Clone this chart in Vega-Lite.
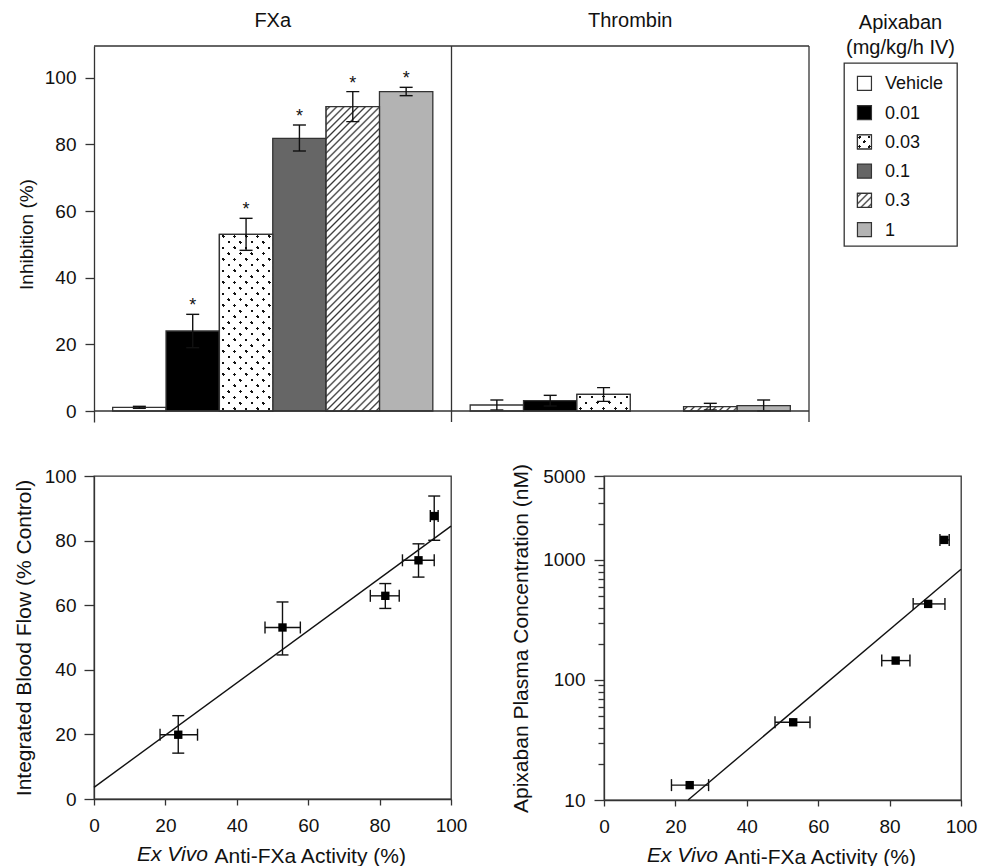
{
"$schema":"https://vega.github.io/schema/vega-lite/v6.json",
"background":"white",
"padding":{"left":12,"top":10,"right":4,"bottom":2},
"spacing":39,
"config":{
 "font":"Liberation Sans",
 "view":{"stroke":"#333","strokeWidth":1.3},
 "axis":{"labelFont":"Liberation Sans","titleFont":"Liberation Sans","labelFontSize":19,"titleFontSize":21,"titleFontWeight":"normal","labelColor":"#111","titleColor":"#111","domainColor":"#333","tickColor":"#333","domainWidth":1.3,"tickWidth":1.3,"grid":false,"labelOverlap":false,"labelFlush":false},
 "title":{"font":"Liberation Sans","fontWeight":"normal","color":"#111"},
 "text":{"font":"Liberation Sans"}
},
"datasets":{
 "bars":[
  {"group":"FXa","dose":"Vehicle","mean":1.1,"lo":0.8,"hi":1.4,"star":false},
  {"group":"FXa","dose":"0.01","mean":24.0,"lo":19.0,"hi":29.0,"star":true},
  {"group":"FXa","dose":"0.03","mean":53.0,"lo":48.2,"hi":57.8,"star":true},
  {"group":"FXa","dose":"0.1","mean":81.8,"lo":78.0,"hi":85.8,"star":true},
  {"group":"FXa","dose":"0.3","mean":91.3,"lo":86.8,"hi":95.8,"star":true},
  {"group":"FXa","dose":"1","mean":95.8,"lo":94.6,"hi":97.1,"star":true},
  {"group":"Thrombin","dose":"Vehicle","mean":1.8,"lo":0.3,"hi":3.3,"star":false},
  {"group":"Thrombin","dose":"0.01","mean":3.1,"lo":1.5,"hi":4.7,"star":false},
  {"group":"Thrombin","dose":"0.03","mean":5.0,"lo":2.9,"hi":7.0,"star":false},
  {"group":"Thrombin","dose":"0.3","mean":1.3,"lo":0.3,"hi":2.3,"star":false},
  {"group":"Thrombin","dose":"1","mean":1.6,"lo":0.0,"hi":3.3,"star":false}
 ],
 "flow":[
  {"x":23.6,"xlo":18.5,"xhi":29.0,"y":19.9,"ylo":14.2,"yhi":25.8},
  {"x":52.8,"xlo":47.9,"xhi":57.8,"y":53.1,"ylo":44.6,"yhi":61.0},
  {"x":81.6,"xlo":77.4,"xhi":85.5,"y":62.9,"ylo":59.0,"yhi":66.7},
  {"x":90.9,"xlo":86.4,"xhi":95.3,"y":73.9,"ylo":68.7,"yhi":79.0},
  {"x":95.3,"xlo":94.2,"xhi":96.4,"y":87.6,"ylo":80.1,"yhi":93.8}
 ],
 "conc":[
  {"x":24.0,"xlo":18.9,"xhi":29.3,"y":13.3,"ylo":12.6,"yhi":14.0},
  {"x":53.0,"xlo":47.9,"xhi":57.7,"y":44.4,"ylo":41.5,"yhi":47.5},
  {"x":81.7,"xlo":77.8,"xhi":85.7,"y":145,"ylo":137,"yhi":153},
  {"x":90.8,"xlo":86.6,"xhi":95.5,"y":430,"ylo":405,"yhi":455},
  {"x":95.3,"xlo":94.1,"xhi":96.7,"y":1468,"ylo":1390,"yhi":1550}
 ],
 "flowfit":[{"x":0,"y":3.6},{"x":100,"y":84.5}],
 "concfit":[{"x":23.55,"y":10},{"x":100,"y":836}]
},
"vconcat":[
{"spacing":33,"hconcat":[
 {
  "width":715,"height":376,
  "view":{"stroke":null},
  "data":{"name":"bars"},
  "layer":[
   {"mark":{"type":"bar","stroke":"#333","strokeWidth":1.3},
    "encoding":{
     "x":{"field":"group","type":"nominal","scale":{"domain":["FXa","Thrombin"],"paddingInner":0,"paddingOuter":0},"axis":{"orient":"top","title":null,"domain":false,"ticks":false,"tickSize":0,"labelPadding":16,"labelFontSize":20,"labelAngle":0}},
     "xOffset":{"field":"dose","type":"nominal","scale":{"domain":["Vehicle","0.01","0.03","0.1","0.3","1"],"paddingInner":0,"paddingOuter":0.35}},
     "y":{"field":"mean","type":"quantitative","scale":{"domain":[-3.3,109.5],"nice":false,"zero":false},"axis":{"values":[0,10,20,30,40,50,60,70,80,90,100],"labelExpr":"datum.value % 20 === 0 ? datum.label : ''","tickSize":9,"labelPadding":9,"title":"Inhibition (%)","titleFontSize":19,"titlePadding":8}},
     "y2":{"datum":0},
     "fill":{"field":"dose","type":"nominal","scale":{"domain":["Vehicle","0.01","0.03","0.1","0.3","1"],"range":["#ffffff","#000000","#ffffff","#666666","#ffffff","#b3b3b3"]},"legend":null}
    }},
   {"transform":[{"filter":"datum.group === 'FXa' && datum.dose === '0.3'"}],
    "mark":{"type":"bar","stroke":"#333","strokeWidth":1.3,"fill":{"gradient":"linear","x1":0,"y1":0,"x2":0.2,"y2":1.1405,"stops":[
{"offset":0.005,"color":"#fff"},{"offset":0.01,"color":"#333"},{"offset":0.015,"color":"#fff"},
{"offset":0.025,"color":"#fff"},{"offset":0.03,"color":"#333"},{"offset":0.035,"color":"#fff"},
{"offset":0.045,"color":"#fff"},{"offset":0.05,"color":"#333"},{"offset":0.055,"color":"#fff"},
{"offset":0.065,"color":"#fff"},{"offset":0.07,"color":"#333"},{"offset":0.075,"color":"#fff"},
{"offset":0.085,"color":"#fff"},{"offset":0.09,"color":"#333"},{"offset":0.095,"color":"#fff"},
{"offset":0.105,"color":"#fff"},{"offset":0.11,"color":"#333"},{"offset":0.115,"color":"#fff"},
{"offset":0.125,"color":"#fff"},{"offset":0.13,"color":"#333"},{"offset":0.135,"color":"#fff"},
{"offset":0.145,"color":"#fff"},{"offset":0.15,"color":"#333"},{"offset":0.155,"color":"#fff"},
{"offset":0.165,"color":"#fff"},{"offset":0.17,"color":"#333"},{"offset":0.175,"color":"#fff"},
{"offset":0.185,"color":"#fff"},{"offset":0.19,"color":"#333"},{"offset":0.195,"color":"#fff"},
{"offset":0.205,"color":"#fff"},{"offset":0.21,"color":"#333"},{"offset":0.215,"color":"#fff"},
{"offset":0.225,"color":"#fff"},{"offset":0.23,"color":"#333"},{"offset":0.235,"color":"#fff"},
{"offset":0.245,"color":"#fff"},{"offset":0.25,"color":"#333"},{"offset":0.255,"color":"#fff"},
{"offset":0.265,"color":"#fff"},{"offset":0.27,"color":"#333"},{"offset":0.275,"color":"#fff"},
{"offset":0.285,"color":"#fff"},{"offset":0.29,"color":"#333"},{"offset":0.295,"color":"#fff"},
{"offset":0.305,"color":"#fff"},{"offset":0.31,"color":"#333"},{"offset":0.315,"color":"#fff"},
{"offset":0.325,"color":"#fff"},{"offset":0.33,"color":"#333"},{"offset":0.335,"color":"#fff"},
{"offset":0.345,"color":"#fff"},{"offset":0.35,"color":"#333"},{"offset":0.355,"color":"#fff"},
{"offset":0.365,"color":"#fff"},{"offset":0.37,"color":"#333"},{"offset":0.375,"color":"#fff"},
{"offset":0.385,"color":"#fff"},{"offset":0.39,"color":"#333"},{"offset":0.395,"color":"#fff"},
{"offset":0.405,"color":"#fff"},{"offset":0.41,"color":"#333"},{"offset":0.415,"color":"#fff"},
{"offset":0.425,"color":"#fff"},{"offset":0.43,"color":"#333"},{"offset":0.435,"color":"#fff"},
{"offset":0.445,"color":"#fff"},{"offset":0.45,"color":"#333"},{"offset":0.455,"color":"#fff"},
{"offset":0.465,"color":"#fff"},{"offset":0.47,"color":"#333"},{"offset":0.475,"color":"#fff"},
{"offset":0.485,"color":"#fff"},{"offset":0.49,"color":"#333"},{"offset":0.495,"color":"#fff"},
{"offset":0.505,"color":"#fff"},{"offset":0.51,"color":"#333"},{"offset":0.515,"color":"#fff"},
{"offset":0.525,"color":"#fff"},{"offset":0.53,"color":"#333"},{"offset":0.535,"color":"#fff"},
{"offset":0.545,"color":"#fff"},{"offset":0.55,"color":"#333"},{"offset":0.555,"color":"#fff"},
{"offset":0.565,"color":"#fff"},{"offset":0.57,"color":"#333"},{"offset":0.575,"color":"#fff"},
{"offset":0.585,"color":"#fff"},{"offset":0.59,"color":"#333"},{"offset":0.595,"color":"#fff"},
{"offset":0.605,"color":"#fff"},{"offset":0.61,"color":"#333"},{"offset":0.615,"color":"#fff"},
{"offset":0.625,"color":"#fff"},{"offset":0.63,"color":"#333"},{"offset":0.635,"color":"#fff"},
{"offset":0.645,"color":"#fff"},{"offset":0.65,"color":"#333"},{"offset":0.655,"color":"#fff"},
{"offset":0.665,"color":"#fff"},{"offset":0.67,"color":"#333"},{"offset":0.675,"color":"#fff"},
{"offset":0.685,"color":"#fff"},{"offset":0.69,"color":"#333"},{"offset":0.695,"color":"#fff"},
{"offset":0.705,"color":"#fff"},{"offset":0.71,"color":"#333"},{"offset":0.715,"color":"#fff"},
{"offset":0.725,"color":"#fff"},{"offset":0.73,"color":"#333"},{"offset":0.735,"color":"#fff"},
{"offset":0.745,"color":"#fff"},{"offset":0.75,"color":"#333"},{"offset":0.755,"color":"#fff"},
{"offset":0.765,"color":"#fff"},{"offset":0.77,"color":"#333"},{"offset":0.775,"color":"#fff"},
{"offset":0.785,"color":"#fff"},{"offset":0.79,"color":"#333"},{"offset":0.795,"color":"#fff"},
{"offset":0.805,"color":"#fff"},{"offset":0.81,"color":"#333"},{"offset":0.815,"color":"#fff"},
{"offset":0.825,"color":"#fff"},{"offset":0.83,"color":"#333"},{"offset":0.835,"color":"#fff"},
{"offset":0.845,"color":"#fff"},{"offset":0.85,"color":"#333"},{"offset":0.855,"color":"#fff"},
{"offset":0.865,"color":"#fff"},{"offset":0.87,"color":"#333"},{"offset":0.875,"color":"#fff"},
{"offset":0.885,"color":"#fff"},{"offset":0.89,"color":"#333"},{"offset":0.895,"color":"#fff"},
{"offset":0.905,"color":"#fff"},{"offset":0.91,"color":"#333"},{"offset":0.915,"color":"#fff"},
{"offset":0.925,"color":"#fff"},{"offset":0.93,"color":"#333"},{"offset":0.935,"color":"#fff"},
{"offset":0.945,"color":"#fff"},{"offset":0.95,"color":"#333"},{"offset":0.955,"color":"#fff"},
{"offset":0.965,"color":"#fff"},{"offset":0.97,"color":"#333"},{"offset":0.975,"color":"#fff"},
{"offset":0.985,"color":"#fff"},{"offset":0.99,"color":"#333"},{"offset":0.995,"color":"#fff"}
]}},
    "encoding":{"x":{"field":"group","type":"nominal"},"xOffset":{"field":"dose","type":"nominal"},"y":{"field":"mean","type":"quantitative"},"y2":{"datum":0}}},
   {"transform":[{"filter":"datum.group === 'Thrombin' && datum.dose === '0.3'"}],
    "mark":{"type":"bar","stroke":"#333","strokeWidth":1.3,"fill":{"gradient":"linear","x1":0,"y1":0,"x2":1.0741,"y2":0.0872,"stops":[
{"offset":0.0315,"color":"#fff"},{"offset":0.0625,"color":"#333"},{"offset":0.0935,"color":"#fff"},
{"offset":0.1565,"color":"#fff"},{"offset":0.1875,"color":"#333"},{"offset":0.2185,"color":"#fff"},
{"offset":0.2815,"color":"#fff"},{"offset":0.3125,"color":"#333"},{"offset":0.3435,"color":"#fff"},
{"offset":0.4065,"color":"#fff"},{"offset":0.4375,"color":"#333"},{"offset":0.4685,"color":"#fff"},
{"offset":0.5315,"color":"#fff"},{"offset":0.5625,"color":"#333"},{"offset":0.5935,"color":"#fff"},
{"offset":0.6565,"color":"#fff"},{"offset":0.6875,"color":"#333"},{"offset":0.7185,"color":"#fff"},
{"offset":0.7815,"color":"#fff"},{"offset":0.8125,"color":"#333"},{"offset":0.8435,"color":"#fff"},
{"offset":0.9065,"color":"#fff"},{"offset":0.9375,"color":"#333"},{"offset":0.9685,"color":"#fff"}
]}},
    "encoding":{"x":{"field":"group","type":"nominal"},"xOffset":{"field":"dose","type":"nominal"},"y":{"field":"mean","type":"quantitative"},"y2":{"datum":0}}},
   {"transform":[{"filter":"datum.group === 'FXa' && datum.dose === '0.03'"}],
    "mark":{"type":"bar","strokeWidth":0,"fill":{"gradient":"linear","x1":0,"y1":0,"x2":0.3603,"y2":1.1932,"stops":[
{"offset":0.018,"color":"#fff"},{"offset":0.018,"color":"#111"},{"offset":0.032,"color":"#111"},{"offset":0.032,"color":"#fff"},
{"offset":0.068,"color":"#fff"},{"offset":0.068,"color":"#111"},{"offset":0.082,"color":"#111"},{"offset":0.082,"color":"#fff"},
{"offset":0.118,"color":"#fff"},{"offset":0.118,"color":"#111"},{"offset":0.132,"color":"#111"},{"offset":0.132,"color":"#fff"},
{"offset":0.168,"color":"#fff"},{"offset":0.168,"color":"#111"},{"offset":0.182,"color":"#111"},{"offset":0.182,"color":"#fff"},
{"offset":0.218,"color":"#fff"},{"offset":0.218,"color":"#111"},{"offset":0.232,"color":"#111"},{"offset":0.232,"color":"#fff"},
{"offset":0.268,"color":"#fff"},{"offset":0.268,"color":"#111"},{"offset":0.282,"color":"#111"},{"offset":0.282,"color":"#fff"},
{"offset":0.318,"color":"#fff"},{"offset":0.318,"color":"#111"},{"offset":0.332,"color":"#111"},{"offset":0.332,"color":"#fff"},
{"offset":0.368,"color":"#fff"},{"offset":0.368,"color":"#111"},{"offset":0.382,"color":"#111"},{"offset":0.382,"color":"#fff"},
{"offset":0.418,"color":"#fff"},{"offset":0.418,"color":"#111"},{"offset":0.432,"color":"#111"},{"offset":0.432,"color":"#fff"},
{"offset":0.468,"color":"#fff"},{"offset":0.468,"color":"#111"},{"offset":0.482,"color":"#111"},{"offset":0.482,"color":"#fff"},
{"offset":0.518,"color":"#fff"},{"offset":0.518,"color":"#111"},{"offset":0.532,"color":"#111"},{"offset":0.532,"color":"#fff"},
{"offset":0.568,"color":"#fff"},{"offset":0.568,"color":"#111"},{"offset":0.582,"color":"#111"},{"offset":0.582,"color":"#fff"},
{"offset":0.618,"color":"#fff"},{"offset":0.618,"color":"#111"},{"offset":0.632,"color":"#111"},{"offset":0.632,"color":"#fff"},
{"offset":0.668,"color":"#fff"},{"offset":0.668,"color":"#111"},{"offset":0.682,"color":"#111"},{"offset":0.682,"color":"#fff"},
{"offset":0.718,"color":"#fff"},{"offset":0.718,"color":"#111"},{"offset":0.732,"color":"#111"},{"offset":0.732,"color":"#fff"},
{"offset":0.768,"color":"#fff"},{"offset":0.768,"color":"#111"},{"offset":0.782,"color":"#111"},{"offset":0.782,"color":"#fff"},
{"offset":0.818,"color":"#fff"},{"offset":0.818,"color":"#111"},{"offset":0.832,"color":"#111"},{"offset":0.832,"color":"#fff"},
{"offset":0.868,"color":"#fff"},{"offset":0.868,"color":"#111"},{"offset":0.882,"color":"#111"},{"offset":0.882,"color":"#fff"},
{"offset":0.918,"color":"#fff"},{"offset":0.918,"color":"#111"},{"offset":0.932,"color":"#111"},{"offset":0.932,"color":"#fff"},
{"offset":0.968,"color":"#fff"},{"offset":0.968,"color":"#111"},{"offset":0.982,"color":"#111"},{"offset":0.982,"color":"#fff"}
]}},
    "encoding":{"x":{"field":"group","type":"nominal"},"xOffset":{"field":"dose","type":"nominal"},"y":{"field":"mean","type":"quantitative"},"y2":{"datum":0}}},
   {"transform":[{"filter":"datum.group === 'FXa' && datum.dose === '0.03'"}],
    "mark":{"type":"bar","stroke":"#333","strokeWidth":1.3,"fill":{"gradient":"linear","x1":0,"y1":1,"x2":0.3603,"y2":-0.1932,"stops":[
{"offset":0.018,"color":"#fff"},{"offset":0.018,"color":"rgba(255,255,255,0)"},{"offset":0.032,"color":"rgba(255,255,255,0)"},{"offset":0.032,"color":"#fff"},
{"offset":0.068,"color":"#fff"},{"offset":0.068,"color":"rgba(255,255,255,0)"},{"offset":0.082,"color":"rgba(255,255,255,0)"},{"offset":0.082,"color":"#fff"},
{"offset":0.118,"color":"#fff"},{"offset":0.118,"color":"rgba(255,255,255,0)"},{"offset":0.132,"color":"rgba(255,255,255,0)"},{"offset":0.132,"color":"#fff"},
{"offset":0.168,"color":"#fff"},{"offset":0.168,"color":"rgba(255,255,255,0)"},{"offset":0.182,"color":"rgba(255,255,255,0)"},{"offset":0.182,"color":"#fff"},
{"offset":0.218,"color":"#fff"},{"offset":0.218,"color":"rgba(255,255,255,0)"},{"offset":0.232,"color":"rgba(255,255,255,0)"},{"offset":0.232,"color":"#fff"},
{"offset":0.268,"color":"#fff"},{"offset":0.268,"color":"rgba(255,255,255,0)"},{"offset":0.282,"color":"rgba(255,255,255,0)"},{"offset":0.282,"color":"#fff"},
{"offset":0.318,"color":"#fff"},{"offset":0.318,"color":"rgba(255,255,255,0)"},{"offset":0.332,"color":"rgba(255,255,255,0)"},{"offset":0.332,"color":"#fff"},
{"offset":0.368,"color":"#fff"},{"offset":0.368,"color":"rgba(255,255,255,0)"},{"offset":0.382,"color":"rgba(255,255,255,0)"},{"offset":0.382,"color":"#fff"},
{"offset":0.418,"color":"#fff"},{"offset":0.418,"color":"rgba(255,255,255,0)"},{"offset":0.432,"color":"rgba(255,255,255,0)"},{"offset":0.432,"color":"#fff"},
{"offset":0.468,"color":"#fff"},{"offset":0.468,"color":"rgba(255,255,255,0)"},{"offset":0.482,"color":"rgba(255,255,255,0)"},{"offset":0.482,"color":"#fff"},
{"offset":0.518,"color":"#fff"},{"offset":0.518,"color":"rgba(255,255,255,0)"},{"offset":0.532,"color":"rgba(255,255,255,0)"},{"offset":0.532,"color":"#fff"},
{"offset":0.568,"color":"#fff"},{"offset":0.568,"color":"rgba(255,255,255,0)"},{"offset":0.582,"color":"rgba(255,255,255,0)"},{"offset":0.582,"color":"#fff"},
{"offset":0.618,"color":"#fff"},{"offset":0.618,"color":"rgba(255,255,255,0)"},{"offset":0.632,"color":"rgba(255,255,255,0)"},{"offset":0.632,"color":"#fff"},
{"offset":0.668,"color":"#fff"},{"offset":0.668,"color":"rgba(255,255,255,0)"},{"offset":0.682,"color":"rgba(255,255,255,0)"},{"offset":0.682,"color":"#fff"},
{"offset":0.718,"color":"#fff"},{"offset":0.718,"color":"rgba(255,255,255,0)"},{"offset":0.732,"color":"rgba(255,255,255,0)"},{"offset":0.732,"color":"#fff"},
{"offset":0.768,"color":"#fff"},{"offset":0.768,"color":"rgba(255,255,255,0)"},{"offset":0.782,"color":"rgba(255,255,255,0)"},{"offset":0.782,"color":"#fff"},
{"offset":0.818,"color":"#fff"},{"offset":0.818,"color":"rgba(255,255,255,0)"},{"offset":0.832,"color":"rgba(255,255,255,0)"},{"offset":0.832,"color":"#fff"},
{"offset":0.868,"color":"#fff"},{"offset":0.868,"color":"rgba(255,255,255,0)"},{"offset":0.882,"color":"rgba(255,255,255,0)"},{"offset":0.882,"color":"#fff"},
{"offset":0.918,"color":"#fff"},{"offset":0.918,"color":"rgba(255,255,255,0)"},{"offset":0.932,"color":"rgba(255,255,255,0)"},{"offset":0.932,"color":"#fff"},
{"offset":0.968,"color":"#fff"},{"offset":0.968,"color":"rgba(255,255,255,0)"},{"offset":0.982,"color":"rgba(255,255,255,0)"},{"offset":0.982,"color":"#fff"}
]}},
    "encoding":{"x":{"field":"group","type":"nominal"},"xOffset":{"field":"dose","type":"nominal"},"y":{"field":"mean","type":"quantitative"},"y2":{"datum":0}}},
   {"transform":[{"filter":"datum.group === 'Thrombin' && datum.dose === '0.03'"}],
    "mark":{"type":"bar","strokeWidth":0,"fill":{"gradient":"linear","x1":0,"y1":0,"x2":1.1957,"y2":0.3735,"stops":[
{"offset":0.061,"color":"#fff"},{"offset":0.061,"color":"#111"},{"offset":0.105,"color":"#111"},{"offset":0.105,"color":"#fff"},
{"offset":0.228,"color":"#fff"},{"offset":0.228,"color":"#111"},{"offset":0.272,"color":"#111"},{"offset":0.272,"color":"#fff"},
{"offset":0.395,"color":"#fff"},{"offset":0.395,"color":"#111"},{"offset":0.439,"color":"#111"},{"offset":0.439,"color":"#fff"},
{"offset":0.561,"color":"#fff"},{"offset":0.561,"color":"#111"},{"offset":0.605,"color":"#111"},{"offset":0.605,"color":"#fff"},
{"offset":0.728,"color":"#fff"},{"offset":0.728,"color":"#111"},{"offset":0.772,"color":"#111"},{"offset":0.772,"color":"#fff"},
{"offset":0.895,"color":"#fff"},{"offset":0.895,"color":"#111"},{"offset":0.939,"color":"#111"},{"offset":0.939,"color":"#fff"}
]}},
    "encoding":{"x":{"field":"group","type":"nominal"},"xOffset":{"field":"dose","type":"nominal"},"y":{"field":"mean","type":"quantitative"},"y2":{"datum":0}}},
   {"transform":[{"filter":"datum.group === 'Thrombin' && datum.dose === '0.03'"}],
    "mark":{"type":"bar","stroke":"#333","strokeWidth":1.3,"fill":{"gradient":"linear","x1":0,"y1":1,"x2":1.1957,"y2":0.6265,"stops":[
{"offset":0.061,"color":"#fff"},{"offset":0.061,"color":"rgba(255,255,255,0)"},{"offset":0.105,"color":"rgba(255,255,255,0)"},{"offset":0.105,"color":"#fff"},
{"offset":0.228,"color":"#fff"},{"offset":0.228,"color":"rgba(255,255,255,0)"},{"offset":0.272,"color":"rgba(255,255,255,0)"},{"offset":0.272,"color":"#fff"},
{"offset":0.395,"color":"#fff"},{"offset":0.395,"color":"rgba(255,255,255,0)"},{"offset":0.439,"color":"rgba(255,255,255,0)"},{"offset":0.439,"color":"#fff"},
{"offset":0.561,"color":"#fff"},{"offset":0.561,"color":"rgba(255,255,255,0)"},{"offset":0.605,"color":"rgba(255,255,255,0)"},{"offset":0.605,"color":"#fff"},
{"offset":0.728,"color":"#fff"},{"offset":0.728,"color":"rgba(255,255,255,0)"},{"offset":0.772,"color":"rgba(255,255,255,0)"},{"offset":0.772,"color":"#fff"},
{"offset":0.895,"color":"#fff"},{"offset":0.895,"color":"rgba(255,255,255,0)"},{"offset":0.939,"color":"rgba(255,255,255,0)"},{"offset":0.939,"color":"#fff"}
]}},
    "encoding":{"x":{"field":"group","type":"nominal"},"xOffset":{"field":"dose","type":"nominal"},"y":{"field":"mean","type":"quantitative"},"y2":{"datum":0}}},
   {"mark":{"type":"rule","color":"#111","strokeWidth":1.4},
    "encoding":{"x":{"field":"group","type":"nominal"},"xOffset":{"field":"dose","type":"nominal"},"y":{"field":"lo","type":"quantitative"},"y2":{"field":"hi"}}},
   {"mark":{"type":"tick","orient":"horizontal","size":13,"thickness":1.4,"color":"#111","opacity":1},
    "encoding":{"x":{"field":"group","type":"nominal"},"xOffset":{"field":"dose","type":"nominal"},"y":{"field":"lo","type":"quantitative"}}},
   {"mark":{"type":"tick","orient":"horizontal","size":13,"thickness":1.4,"color":"#111","opacity":1},
    "encoding":{"x":{"field":"group","type":"nominal"},"xOffset":{"field":"dose","type":"nominal"},"y":{"field":"hi","type":"quantitative"}}},
   {"transform":[{"filter":"datum.star"}],
    "mark":{"type":"text","text":"*","fontSize":18,"baseline":"alphabetic","dy":-3,"color":"#111"},
    "encoding":{"x":{"field":"group","type":"nominal"},"xOffset":{"field":"dose","type":"nominal"},"y":{"field":"hi","type":"quantitative"}}},
   {"data":{"values":[{}]},"mark":{"type":"rule","color":"#333","strokeWidth":1.3},"encoding":{"y":{"datum":0,"type":"quantitative"}}},
   {"data":{"values":[{}]},"mark":{"type":"rule","color":"#333","strokeWidth":1.3},"encoding":{"y":{"datum":109.5,"type":"quantitative"}}},
   {"data":{"values":[{}]},"mark":{"type":"rule","color":"#333","strokeWidth":1.3},"encoding":{"x":{"datum":"Thrombin","type":"nominal","bandPosition":0}}},
   {"data":{"values":[{}]},"mark":{"type":"rule","color":"#333","strokeWidth":1.3},"encoding":{"x":{"datum":"Thrombin","type":"nominal","bandPosition":1}}}
  ]
 },
 {"bounds":"flush","spacing":16,"vconcat":[
  {"width":113,"height":1,"view":{"stroke":null},"data":{"values":[]},"mark":"point"},
  {
  "width":113,"height":183,
  "view":{"stroke":"#333","strokeWidth":1.3},
  "title":{"text":["Apixaban","(mg/kg/h IV)"],"anchor":"middle","fontSize":20,"lineHeight":25,"offset":5},
  "data":{"name":"bars"},
  "transform":[{"filter":"datum.group === 'FXa'"}],
  "layer":[
   {"mark":{"type":"point","shape":"square","filled":true,"size":196,"opacity":1,"stroke":"#333","strokeWidth":1.2},
    "encoding":{
     "x":{"datum":0.181,"type":"quantitative","scale":{"domain":[0,1]},"axis":null},
     "y":{"field":"dose","type":"nominal","scale":{"type":"point","domain":["Vehicle","0.01","0.03","0.1","0.3","1"],"padding":0.627,"align":0.555},"axis":null},
     "fill":{"field":"dose","type":"nominal","legend":null}
    }},
   {"transform":[{"filter":"datum.dose === '0.3'"}],
    "mark":{"type":"point","shape":"square","filled":true,"size":196,"opacity":1,"stroke":"#333","strokeWidth":1.2,"fill":{"gradient":"linear","x1":0,"y1":0,"x2":1,"y2":1,"stops":[
{"offset":0.061,"color":"#fff"},{"offset":0.125,"color":"#333"},{"offset":0.189,"color":"#fff"},
{"offset":0.311,"color":"#fff"},{"offset":0.375,"color":"#333"},{"offset":0.439,"color":"#fff"},
{"offset":0.561,"color":"#fff"},{"offset":0.625,"color":"#333"},{"offset":0.689,"color":"#fff"},
{"offset":0.811,"color":"#fff"},{"offset":0.875,"color":"#333"},{"offset":0.939,"color":"#fff"}
]}},
    "encoding":{"x":{"datum":0.181,"type":"quantitative"},"y":{"field":"dose","type":"nominal"}}},
   {"transform":[{"filter":"datum.dose === '0.03'"}],
    "mark":{"type":"point","shape":"square","filled":true,"size":196,"opacity":1,"strokeWidth":0,"fill":{"gradient":"linear","x1":0,"y1":0,"x2":1,"y2":1,"stops":[
{"offset":0.111,"color":"#fff"},{"offset":0.111,"color":"#111"},{"offset":0.223,"color":"#111"},{"offset":0.223,"color":"#fff"},
{"offset":0.444,"color":"#fff"},{"offset":0.444,"color":"#111"},{"offset":0.556,"color":"#111"},{"offset":0.556,"color":"#fff"},
{"offset":0.777,"color":"#fff"},{"offset":0.777,"color":"#111"},{"offset":0.889,"color":"#111"},{"offset":0.889,"color":"#fff"}
]}},
    "encoding":{"x":{"datum":0.181,"type":"quantitative"},"y":{"field":"dose","type":"nominal"}}},
   {"transform":[{"filter":"datum.dose === '0.03'"}],
    "mark":{"type":"point","shape":"square","filled":true,"size":196,"opacity":1,"stroke":"#333","strokeWidth":1.2,"fill":{"gradient":"linear","x1":0,"y1":1,"x2":1,"y2":0,"stops":[
{"offset":0.111,"color":"#fff"},{"offset":0.111,"color":"rgba(255,255,255,0)"},{"offset":0.223,"color":"rgba(255,255,255,0)"},{"offset":0.223,"color":"#fff"},
{"offset":0.444,"color":"#fff"},{"offset":0.444,"color":"rgba(255,255,255,0)"},{"offset":0.556,"color":"rgba(255,255,255,0)"},{"offset":0.556,"color":"#fff"},
{"offset":0.777,"color":"#fff"},{"offset":0.777,"color":"rgba(255,255,255,0)"},{"offset":0.889,"color":"rgba(255,255,255,0)"},{"offset":0.889,"color":"#fff"}
]}},
    "encoding":{"x":{"datum":0.181,"type":"quantitative"},"y":{"field":"dose","type":"nominal"}}},
   {"mark":{"type":"text","align":"left","baseline":"middle","fontSize":18,"color":"#111","dy":1},
    "encoding":{"x":{"datum":0.363,"type":"quantitative"},"y":{"field":"dose","type":"nominal"},"text":{"field":"dose"}}}
  ]
 }]}
]},
{"spacing":42,"hconcat":[
 {
  "width":357,"height":323,
  "title":{"text":"Ex Vivo","orient":"bottom","anchor":"start","frame":"group","dx":43,"offset":-22,"fontSize":21,"fontStyle":"italic"},
  "layer":[
   {"data":{"name":"flowfit"},"mark":{"type":"line","color":"#111","strokeWidth":1.4},
    "encoding":{
     "x":{"field":"x","type":"quantitative","scale":{"domain":[0,100],"nice":false},"axis":{"values":[0,10,20,30,40,50,60,70,80,90,100],"labelExpr":"datum.value % 20 === 0 ? datum.label : ''","tickSize":6,"labelPadding":11,"title":"Anti-FXa Activity (%)","titleX":120,"titleAlign":"left","titlePadding":10}},
     "y":{"field":"y","type":"quantitative","scale":{"domain":[0,100],"nice":false},"axis":{"values":[0,10,20,30,40,50,60,70,80,90,100],"labelExpr":"datum.value % 20 === 0 ? datum.label : ''","tickSize":{"condition":{"test":"datum.value % 20 === 0","value":10},"value":7},"labelPadding":8,"title":"Integrated Blood Flow (% Control)","titlePadding":10}}
    }},
   {"data":{"name":"flow"},"mark":{"type":"rule","color":"#111","strokeWidth":1.4},
    "encoding":{"x":{"field":"xlo","type":"quantitative"},"x2":{"field":"xhi"},"y":{"field":"y","type":"quantitative"}}},
   {"data":{"name":"flow"},"mark":{"type":"rule","color":"#111","strokeWidth":1.4},
    "encoding":{"x":{"field":"x","type":"quantitative"},"y":{"field":"ylo","type":"quantitative"},"y2":{"field":"yhi"}}},
   {"data":{"name":"flow"},"mark":{"type":"tick","orient":"vertical","size":12,"thickness":1.4,"color":"#111","opacity":1},
    "encoding":{"x":{"field":"xlo","type":"quantitative"},"y":{"field":"y","type":"quantitative"}}},
   {"data":{"name":"flow"},"mark":{"type":"tick","orient":"vertical","size":12,"thickness":1.4,"color":"#111","opacity":1},
    "encoding":{"x":{"field":"xhi","type":"quantitative"},"y":{"field":"y","type":"quantitative"}}},
   {"data":{"name":"flow"},"mark":{"type":"tick","orient":"horizontal","size":12,"thickness":1.4,"color":"#111","opacity":1},
    "encoding":{"x":{"field":"x","type":"quantitative"},"y":{"field":"ylo","type":"quantitative"}}},
   {"data":{"name":"flow"},"mark":{"type":"tick","orient":"horizontal","size":12,"thickness":1.4,"color":"#111","opacity":1},
    "encoding":{"x":{"field":"x","type":"quantitative"},"y":{"field":"yhi","type":"quantitative"}}},
   {"data":{"name":"flow"},"mark":{"type":"point","shape":"square","filled":true,"size":70,"opacity":1,"color":"#000"},
    "encoding":{"x":{"field":"x","type":"quantitative"},"y":{"field":"y","type":"quantitative"}}}
  ]
 },
 {
  "width":357,"height":324,
  "title":{"text":"Ex Vivo","orient":"bottom","anchor":"start","frame":"group","dx":43,"offset":-22,"fontSize":21,"fontStyle":"italic"},
  "layer":[
   {"data":{"name":"concfit"},"mark":{"type":"line","color":"#111","strokeWidth":1.4},
    "encoding":{
     "x":{"field":"x","type":"quantitative","scale":{"domain":[0,100],"nice":false},"axis":{"values":[0,10,20,30,40,50,60,70,80,90,100],"labelExpr":"datum.value % 20 === 0 ? datum.label : ''","tickSize":6,"labelPadding":11,"title":"Anti-FXa Activity (%)","titleX":120,"titleAlign":"left","titlePadding":10}},
     "y":{"field":"y","type":"quantitative","scale":{"type":"log","domain":[10,5000],"nice":false},"axis":{"values":[10,20,30,40,50,60,70,80,90,100,200,300,400,500,600,700,800,900,1000,2000,3000,4000,5000],"format":"d","labelExpr":"(datum.value == 10 || datum.value == 100 || datum.value == 1000 || datum.value == 5000) ? datum.label : ''","tickSize":{"condition":{"test":"datum.value == 10 || datum.value == 100 || datum.value == 1000 || datum.value == 5000","value":10},"value":6},"labelPadding":9,"title":"Apixaban Plasma Concentration (nM)","titlePadding":11}}
    }},
   {"data":{"name":"conc"},"mark":{"type":"rule","color":"#111","strokeWidth":1.4},
    "encoding":{"x":{"field":"xlo","type":"quantitative"},"x2":{"field":"xhi"},"y":{"field":"y","type":"quantitative"}}},
   {"data":{"name":"conc"},"mark":{"type":"rule","color":"#111","strokeWidth":1.4},
    "encoding":{"x":{"field":"x","type":"quantitative"},"y":{"field":"ylo","type":"quantitative"},"y2":{"field":"yhi"}}},
   {"data":{"name":"conc"},"mark":{"type":"tick","orient":"vertical","size":12,"thickness":1.4,"color":"#111","opacity":1},
    "encoding":{"x":{"field":"xlo","type":"quantitative"},"y":{"field":"y","type":"quantitative"}}},
   {"data":{"name":"conc"},"mark":{"type":"tick","orient":"vertical","size":12,"thickness":1.4,"color":"#111","opacity":1},
    "encoding":{"x":{"field":"xhi","type":"quantitative"},"y":{"field":"y","type":"quantitative"}}},
   {"data":{"name":"conc"},"mark":{"type":"point","shape":"square","filled":true,"size":70,"opacity":1,"color":"#000"},
    "encoding":{"x":{"field":"x","type":"quantitative"},"y":{"field":"y","type":"quantitative"}}}
  ]
 }
]}
]
}
